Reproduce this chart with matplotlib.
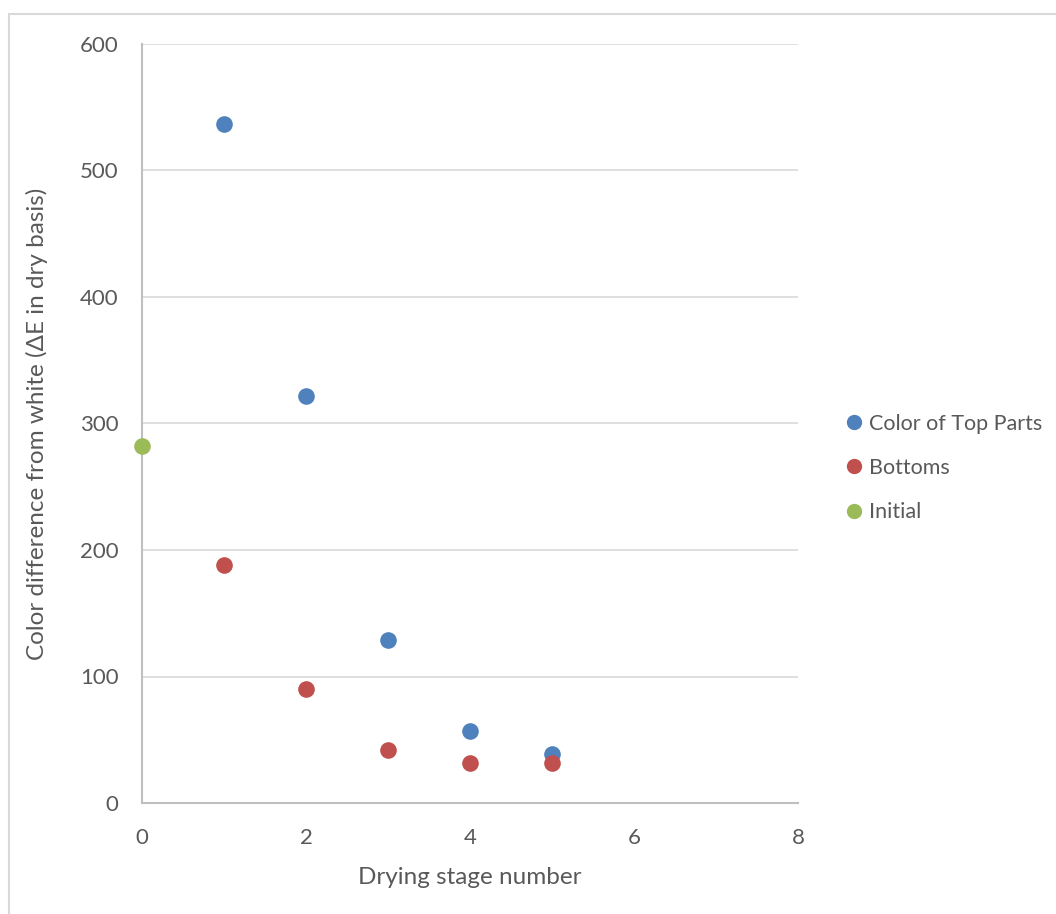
import matplotlib
matplotlib.use("Agg")
import matplotlib.pyplot as plt
from matplotlib.patches import Rectangle
from matplotlib.lines import Line2D

stages_top = [1, 2, 3, 4, 5]
top_values = [537, 322, 129, 57, 39]
stages_bottom = [1, 2, 3, 4, 5]
bottom_values = [188, 90, 42, 32, 32]
stages_initial = [0]
initial_values = [282]
series_names = ["Color of Top Parts", "Bottoms", "Initial"]
x_ticks = [0, 2, 4, 6, 8]
y_ticks = [0, 100, 200, 300, 400, 500, 600]

colors = ["#4F81BD", "#C0504D", "#9BBB59"]
text_color = "#595959"
grid_color = "#D9D9D9"

plt.rcParams['font.family'] = ['Lato', 'DejaVu Sans']

fig = plt.figure(figsize=(10.56, 9.14), dpi=100)
fig.patches.append(Rectangle((9/1056, -0.1), 1.2, 1 - 14/914 + 0.1, transform=fig.transFigure,
                             fill=False, edgecolor="#D9D9D9", linewidth=1.5))

ax = fig.add_axes([142/1056, 1 - 803/914, (798 - 142)/1056, (803 - 44)/914])
ax.set_xlim(0, 8)
ax.set_ylim(0, 600)
ax.set_xticks(x_ticks)
ax.set_yticks(y_ticks)
ax.yaxis.grid(True, color=grid_color, linewidth=1.2)
ax.set_axisbelow(True)
for s in ["top", "right"]:
    ax.spines[s].set_visible(False)
for s in ["left", "bottom"]:
    ax.spines[s].set_color("#BFBFBF")
    ax.spines[s].set_linewidth(1.5)
ax.tick_params(length=0, labelsize=16, labelcolor=text_color)
ax.tick_params(axis='y', pad=17)
ax.tick_params(axis='x', pad=18)

ms = 120
ax.scatter(stages_top, top_values, s=ms, color=colors[0], clip_on=False, zorder=3)
ax.scatter(stages_bottom, bottom_values, s=ms, color=colors[1], clip_on=False, zorder=3)
ax.scatter(stages_initial, initial_values, s=ms, color=colors[2], clip_on=False, zorder=3)

ax.set_xlabel("Drying stage number", fontsize=17.5, color=text_color, labelpad=14)
ax.set_ylabel("Color difference from white (ΔE in dry basis)", fontsize=17.5, color=text_color, labelpad=23)

handles = [Line2D([], [], marker='o', linestyle='none', markersize=10, color=c) for c in colors]
leg = fig.legend(handles, series_names, loc='center left', bbox_to_anchor=(822/1056, 1 - 468/914),
                 frameon=False, fontsize=15.5, handletextpad=0.1, labelspacing=1.12, handlelength=1.2)
for t in leg.get_texts():
    t.set_color(text_color)

fig.savefig("out.png", dpi=100)
